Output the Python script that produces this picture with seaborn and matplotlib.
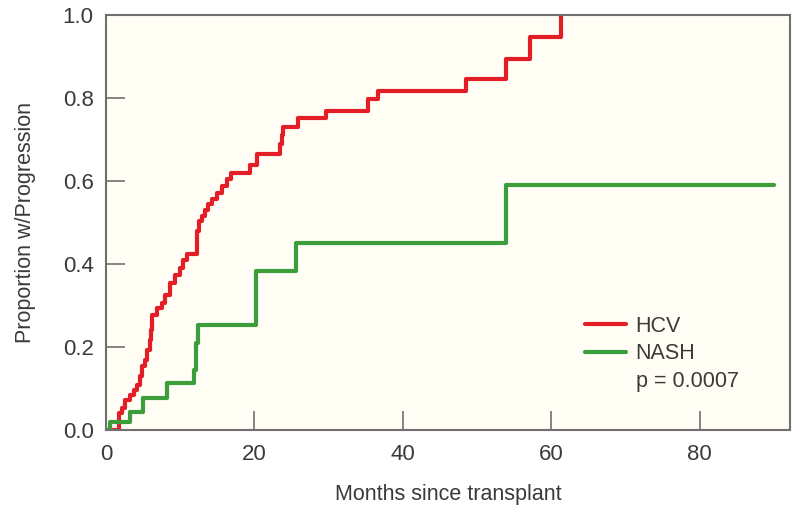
import pandas as pd
import seaborn as sns
import matplotlib.pyplot as plt
from matplotlib.lines import Line2D

# cumulative incidence (month, proportion)
hcv_months = [0, 1.7, 2.1, 2.6, 3.2, 3.7, 4.1, 4.6, 4.8, 5.3, 5.5, 5.9, 6.1, 6.2,
              6.8, 7.5, 7.95, 8.6, 9.3, 10.0, 10.4, 10.9, 12.2, 12.5, 12.9, 13.3,
              13.8, 14.3, 14.9, 15.6, 16.3, 16.9, 19.4, 20.3, 23.4, 23.7, 23.9,
              25.8, 29.7, 35.3, 36.6, 48.5, 53.9, 57.2, 61.3]
hcv_prop = [0, 0.04, 0.053, 0.072, 0.085, 0.097, 0.109, 0.129, 0.153, 0.169, 0.193,
            0.217, 0.24, 0.278, 0.294, 0.307, 0.326, 0.354, 0.374, 0.39, 0.41, 0.425,
            0.48, 0.503, 0.515, 0.53, 0.545, 0.558, 0.572, 0.587, 0.604, 0.62, 0.638,
            0.665, 0.69, 0.71, 0.73, 0.751, 0.769, 0.797, 0.817, 0.847, 0.895, 0.948, 1.0]

nash_months = [0, 0.5, 3.2, 5.0, 8.2, 11.8, 12.1, 12.4, 20.2, 25.6, 53.9, 90.0]
nash_prop = [0, 0.02, 0.044, 0.077, 0.114, 0.145, 0.21, 0.253, 0.383, 0.45, 0.59, 0.59]

groups = ["HCV", "NASH"]
colors = ["#E41E26", "#3C9E3A"]
p_text = "p = 0.0007"

df = pd.concat([
    pd.DataFrame({"months": hcv_months, "prop": hcv_prop, "group": "HCV"}),
    pd.DataFrame({"months": nash_months, "prop": nash_prop, "group": "NASH"}),
])

sns.set_style("ticks")
plt.rcParams["font.family"] = ["Liberation Sans", "DejaVu Sans"]

fig = plt.figure(figsize=(7.98, 5.07), dpi=100)
ax = fig.add_axes([0.133, 0.152, 0.857, 0.818])
ax.set_facecolor("#FFFDF4")

sns.lineplot(data=df, x="months", y="prop", hue="group", hue_order=groups,
             palette=colors, drawstyle="steps-post", linewidth=3.0,
             estimator=None, sort=False, legend=False, ax=ax)

ax.set_xlim(0, 92.2)
ax.set_ylim(0, 1.0)
ax.set_xticks([0, 20, 40, 60, 80])
ax.set_yticks([0.0, 0.2, 0.4, 0.6, 0.8, 1.0])
ax.set_yticklabels(["0.0", "0.2", "0.4", "0.6", "0.8", "1.0"])
ax.tick_params(direction="in", length=14, width=1.2, color="#707070",
               labelsize=16, labelcolor="#3A3A3A")
ax.tick_params(axis="x", pad=10)
ax.tick_params(axis="y", pad=9)
for s in ax.spines.values():
    s.set_color("#707070")
    s.set_linewidth(1.5)

ax.set_xlabel("Months since transplant", fontsize=15.5, color="#3A3A3A", labelpad=14)
ax.set_ylabel("Proportion w/Progression", fontsize=15.5, color="#3A3A3A", labelpad=19)

handles = [Line2D([], [], color=colors[0], lw=3),
           Line2D([], [], color=colors[1], lw=3),
           Line2D([], [], color="none", lw=0)]
ax.legend(handles, groups + [p_text], loc="lower left", bbox_to_anchor=(0.672, 0.045),
          frameon=False, fontsize=15.5, handlelength=1.9, handletextpad=0.45,
          labelspacing=0.3, labelcolor="#3A3A3A")

fig.savefig("out.png", dpi=100, facecolor="white")
